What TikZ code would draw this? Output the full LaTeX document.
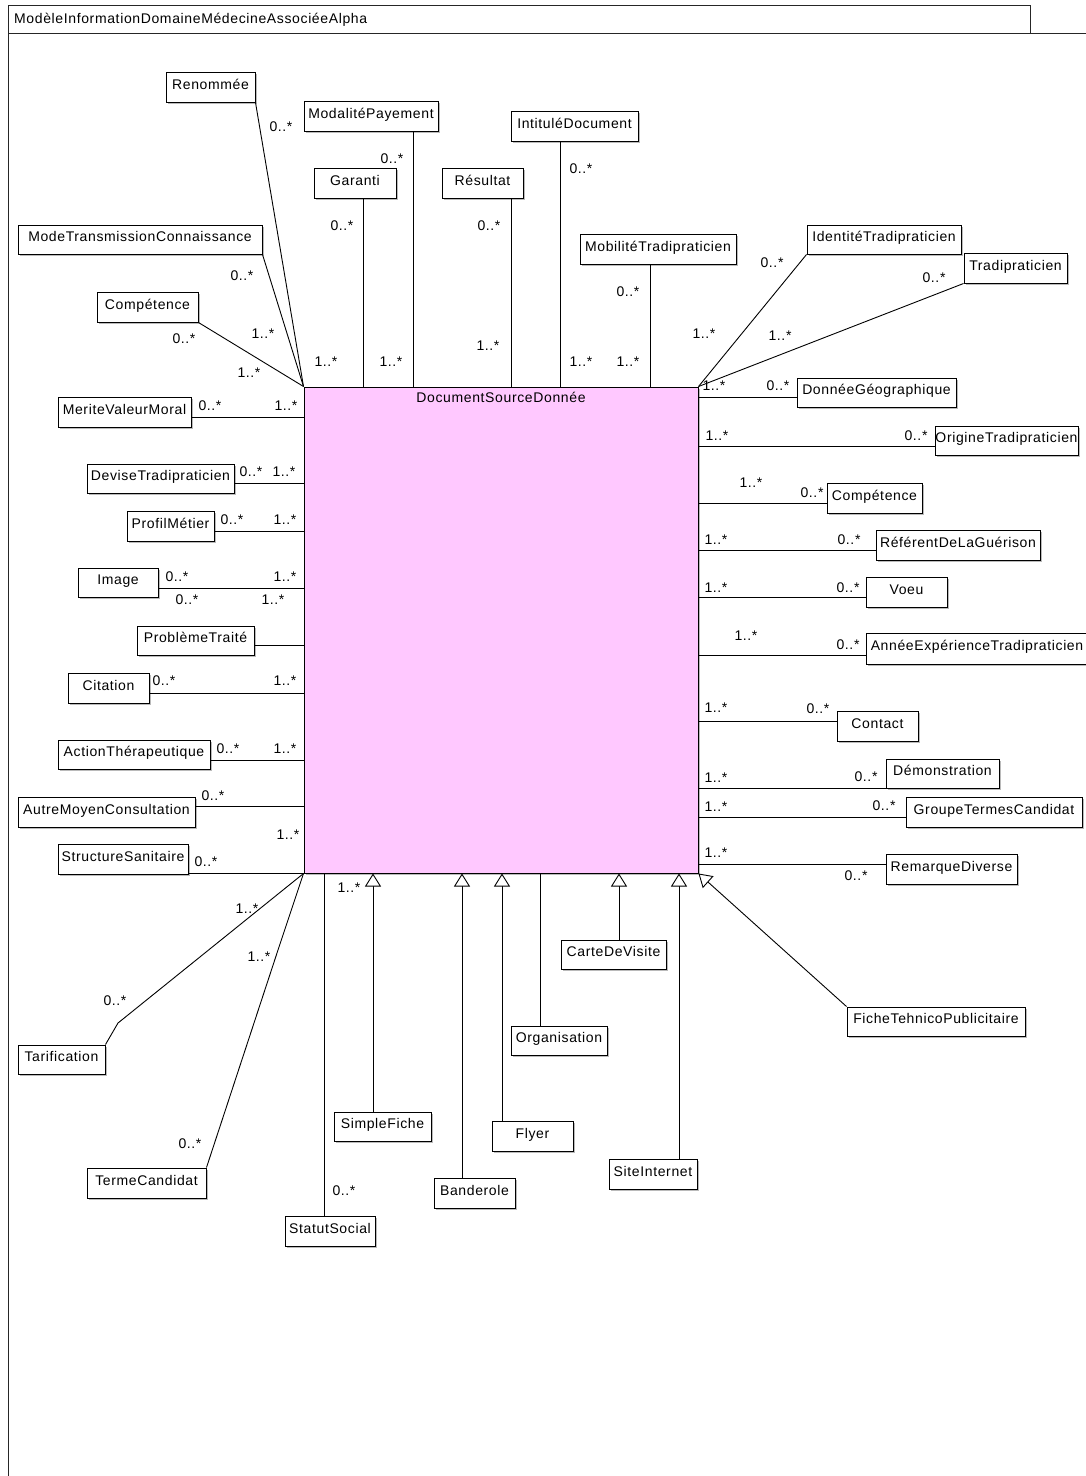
\documentclass[tikz,border=0pt]{standalone}
\usepackage{fontspec}
\setmainfont{Liberation Sans}[LetterSpace=4.5]
\usetikzlibrary{arrows.meta,shadows}
\definecolor{docpink}{RGB}{255,200,255}
\tikzset{
  umlbox/.style={draw=black, line width=1pt, fill=white, rectangle, inner sep=0pt,
    text height=10pt, text depth=6pt, font=\fontsize{14}{16}\selectfont,
    drop shadow={shadow xshift=2pt, shadow yshift=-2pt, fill=black!45, opacity=.6}},
  mainbox/.style={draw=black, line width=1pt, fill=docpink, rectangle, inner sep=0pt,
    drop shadow={shadow xshift=2pt, shadow yshift=-2pt, fill=black!45, opacity=.6}},
  mult/.style={inner sep=0pt, text height=10pt, text depth=0pt, font=\fontsize{14}{16}\selectfont},
  titletext/.style={inner sep=0pt, text height=10pt, text depth=0pt, font=\fontsize{14}{16}\selectfont},
  assoc/.style={draw=black, line width=0.9pt},
  gen/.style={draw=black, line width=0.9pt, -{Triangle[length=13pt, width=16pt, fill=white, line width=0.9pt]}},
  frame/.style={draw=black!85, line width=1pt}
}
% a class box given by its corners (x1,y1) (x2,y2) in picture units
\newcommand\umlclass[6]{%
  \node[umlbox, minimum width={#4-#2}, minimum height={#5-#3}] (#1) at ({(#2+#4)/2},{(#3+#5)/2}) {#6};}
% a multiplicity label centred at (x,y)
\newcommand\mul[4]{\node[mult] (#1) at (#2,#3) {#4};}

\begin{document}
\begin{tikzpicture}[x=1pt, y=-1pt]
\fill[white] (0,0) rectangle (1086,1476);
\useasboundingbox (0,0) rectangle (1086,1476);

% package frame
\draw[frame] (8,33) -- (8,5) -- (1030,5) -- (1030,33);
\draw[frame] (8,1480) -- (8,33) -- (1090,33);
\node[titletext, anchor=west] (pkgtitle) at (14,18) {ModèleInformationDomaineMédecineAssociéeAlpha};

% central class
\node[mainbox, minimum width=394, minimum height=486] (doc) at (501,630) {};
\node[titletext] (doctitle) at (501,397) {DocumentSourceDonnée};

% classes above
\umlclass{renommee}{166}{72}{255}{102}{Renommée}
\umlclass{modalite}{304}{101}{438}{131}{ModalitéPayement}
\umlclass{garanti}{314}{168}{396}{198}{Garanti}
\umlclass{resultat}{442}{168}{523}{198}{Résultat}
\umlclass{intitule}{511}{111}{638}{141}{IntituléDocument}
\umlclass{mobilite}{580}{234}{736}{264}{MobilitéTradipraticien}
\umlclass{identite}{807}{225}{961}{254}{IdentitéTradipraticien}
\umlclass{tradi}{964}{253}{1067}{283}{Tradipraticien}
\umlclass{modetrans}{18}{225}{262}{254}{ModeTransmissionConnaissance}
\umlclass{competenceL}{97}{292}{198}{322}{Compétence}

% classes on the left
\umlclass{merite}{58}{397}{191}{427}{MeriteValeurMoral}
\umlclass{devise}{87}{464}{234}{493}{DeviseTradipraticien}
\umlclass{profil}{127}{511}{214}{541}{ProfilMétier}
\umlclass{image}{78}{568}{158}{597}{Image}
\umlclass{probleme}{137}{626}{254}{655}{ProblèmeTraité}
\umlclass{citation}{68}{673}{149}{703}{Citation}
\umlclass{action}{58}{740}{210}{769}{ActionThérapeutique}
\umlclass{autremoyen}{18}{797}{195}{827}{AutreMoyenConsultation}
\umlclass{structure}{58}{844}{188}{874}{StructureSanitaire}

% classes on the right
\umlclass{donneegeo}{797}{378}{956}{407}{DonnéeGéographique}
\umlclass{origine}{935}{426}{1078}{455}{OrigineTradipraticien}
\umlclass{competenceR}{827}{483}{922}{513}{Compétence}
\umlclass{referent}{876}{530}{1040}{560}{RéférentDeLaGuérison}
\umlclass{voeu}{866}{577}{947}{607}{Voeu}
\umlclass{annee}{866}{633}{1088}{664}{AnnéeExpérienceTradipraticien}
\umlclass{contact}{837}{711}{918}{741}{Contact}
\umlclass{demo}{886}{759}{999}{788}{Démonstration}
\umlclass{groupe}{906}{797}{1082}{827}{GroupeTermesCandidat}
\umlclass{remarque}{886}{854}{1017}{884}{RemarqueDiverse}
\umlclass{fiche}{847}{1007}{1025}{1036}{FicheTehnicoPublicitaire}

% classes below
\umlclass{tarif}{18}{1045}{105}{1074}{Tarification}
\umlclass{terme}{87}{1168}{206}{1198}{TermeCandidat}
\umlclass{statut}{285}{1216}{375}{1246}{StatutSocial}
\umlclass{simplefiche}{334}{1112}{431}{1141}{SimpleFiche}
\umlclass{banderole}{434}{1178}{515}{1208}{Banderole}
\umlclass{flyer}{492}{1121}{573}{1151}{Flyer}
\umlclass{organisation}{511}{1026}{607}{1055}{Organisation}
\umlclass{carte}{561}{940}{666}{969}{CarteDeVisite}
\umlclass{site}{609}{1159}{697}{1189}{SiteInternet}

% associations above
\draw[assoc] (renommee.south east) -- (doc.north west);
\draw[assoc] (modetrans.south east) -- (doc.north west);
\draw[assoc] (competenceL.south east) -- (doc.north west);
\draw[assoc] (363,0 |- garanti.south) -- (363,0 |- doc.north);
\draw[assoc] (413,0 |- modalite.south) -- (413,0 |- doc.north);
\draw[assoc] (511,0 |- resultat.south) -- (511,0 |- doc.north);
\draw[assoc] (560,0 |- intitule.south) -- (560,0 |- doc.north);
\draw[assoc] (650,0 |- mobilite.south) -- (650,0 |- doc.north);
\draw[assoc] (identite.south west) -- (doc.north east);
\draw[assoc] (tradi.south west) -- (doc.north east);

% associations on the right
\draw[assoc] (doc.east |- 0,397) -- (donneegeo.west |- 0,397);
\draw[assoc] (doc.east |- 0,446) -- (origine.west |- 0,446);
\draw[assoc] (doc.east |- 0,503) -- (competenceR.west |- 0,503);
\draw[assoc] (doc.east |- 0,550) -- (referent.west |- 0,550);
\draw[assoc] (doc.east |- 0,597) -- (voeu.west |- 0,597);
\draw[assoc] (doc.east |- 0,655) -- (annee.west |- 0,655);
\draw[assoc] (doc.east |- 0,721) -- (contact.west |- 0,721);
\draw[assoc] (doc.east |- demo.south west) -- (demo.south west);
\draw[assoc] (doc.east |- 0,817) -- (groupe.west |- 0,817);
\draw[assoc] (doc.east |- 0,864) -- (remarque.west |- 0,864);

% associations on the left
\draw[assoc] (merite.east |- 0,417) -- (doc.west |- 0,417);
\draw[assoc] (devise.east |- 0,483) -- (doc.west |- 0,483);
\draw[assoc] (profil.east |- 0,531) -- (doc.west |- 0,531);
\draw[assoc] (image.east |- 0,588) -- (doc.west |- 0,588);
\draw[assoc] (probleme.east |- 0,645) -- (doc.west |- 0,645);
\draw[assoc] (citation.east |- 0,693) -- (doc.west |- 0,693);
\draw[assoc] (action.east |- 0,760) -- (doc.west |- 0,760);
\draw[assoc] (autremoyen.east |- 0,806) -- (doc.west |- 0,806);
\draw[assoc] (structure.east |- doc.south west) -- (doc.south west);

% associations below
\draw[assoc] (doc.south west) -- (118,1023) -- (tarif.north east);
\draw[assoc] (doc.south west) -- (278,950) -- (terme.north east);
\draw[assoc] (324,0 |- doc.south) -- (324,0 |- statut.north);
\draw[assoc] (540,0 |- organisation.north) -- (540,0 |- doc.south);

% generalizations
\draw[gen] (373,0 |- simplefiche.north) -- (373,0 |- doc.south);
\draw[gen] (462,0 |- banderole.north) -- (462,0 |- doc.south);
\draw[gen] (502,0 |- flyer.north) -- (502,0 |- doc.south);
\draw[gen] (619,0 |- carte.north) -- (619,0 |- doc.south);
\draw[gen] (679,0 |- site.north) -- (679,0 |- doc.south);
\draw[gen] (fiche.north west) -- (doc.south east);

% multiplicities above
\mul{mA1}{281}{126}{0..*}
\mul{mA2}{326}{361}{1..*}
\mul{mA3}{242}{275}{0..*}
\mul{mA4}{263}{333}{1..*}
\mul{mA5}{184}{338}{0..*}
\mul{mA6}{249}{372}{1..*}
\mul{mA7}{342}{225}{0..*}
\mul{mA8}{391}{361}{1..*}
\mul{mA9}{392}{158}{0..*}
\mul{mA10}{489}{225}{0..*}
\mul{mA11}{488}{345}{1..*}
\mul{mA12}{581}{168}{0..*}
\mul{mA13}{581}{361}{1..*}
\mul{mA14}{628}{291}{0..*}
\mul{mA15}{628}{361}{1..*}
\mul{mA16}{772}{262}{0..*}
\mul{mA17}{704}{333}{1..*}
\mul{mA18}{934}{277}{0..*}
\mul{mA19}{780}{335}{1..*}

% multiplicities on the right
\mul{mR1}{714}{385}{1..*}
\mul{mR2}{778}{385}{0..*}
\mul{mR3}{717}{435}{1..*}
\mul{mR4}{916}{435}{0..*}
\mul{mR5}{751}{482}{1..*}
\mul{mR6}{812}{492}{0..*}
\mul{mR7}{716}{539}{1..*}
\mul{mR8}{849}{539}{0..*}
\mul{mR9}{716}{587}{1..*}
\mul{mR10}{848}{587}{0..*}
\mul{mR11}{746}{635}{1..*}
\mul{mR12}{848}{644}{0..*}
\mul{mR13}{716}{707}{1..*}
\mul{mR14}{818}{708}{0..*}
\mul{mR15}{716}{777}{1..*}
\mul{mR16}{866}{776}{0..*}
\mul{mR17}{716}{806}{1..*}
\mul{mR18}{884}{805}{0..*}
\mul{mR19}{716}{852}{1..*}
\mul{mR20}{856}{875}{0..*}

% multiplicities on the left
\mul{mL1}{210}{405}{0..*}
\mul{mL2}{286}{405}{1..*}
\mul{mL3}{251}{471}{0..*}
\mul{mL4}{284}{471}{1..*}
\mul{mL5}{232}{519}{0..*}
\mul{mL6}{285}{519}{1..*}
\mul{mL7}{177}{576}{0..*}
\mul{mL8}{285}{576}{1..*}
\mul{mL9}{187}{599}{0..*}
\mul{mL10}{273}{599}{1..*}
\mul{mL11}{164}{680}{0..*}
\mul{mL12}{285}{680}{1..*}
\mul{mL13}{228}{748}{0..*}
\mul{mL14}{285}{748}{1..*}
\mul{mL15}{213}{795}{0..*}
\mul{mL16}{206}{861}{0..*}
\mul{mL17}{288}{834}{1..*}

% multiplicities below
\mul{mB1}{247}{908}{1..*}
\mul{mB2}{115}{1000}{0..*}
\mul{mB3}{259}{956}{1..*}
\mul{mB4}{190}{1143}{0..*}
\mul{mB5}{344}{1190}{0..*}
\mul{mB6}{349}{887}{1..*}
\end{tikzpicture}
\end{document}
